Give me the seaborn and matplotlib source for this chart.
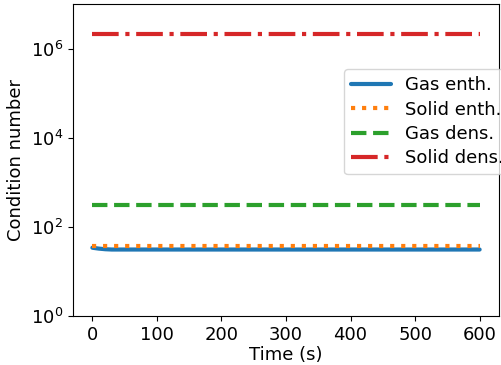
import matplotlib
matplotlib.use("Agg")
import matplotlib.pyplot as plt
import matplotlib.ticker as mticker
import seaborn as sns
import pandas as pd

time_s = [0, 10, 20, 30, 60, 120, 180, 240, 300, 360, 420, 480, 540, 600]
gas_enth = [34, 32.5, 31.5, 31, 31, 31, 31, 31, 31, 31, 31, 31, 31, 31]
solid_enth = [38, 38, 38, 38, 38, 38, 38, 38, 38, 38, 38, 38, 38, 38]
gas_dens = [307, 307, 307, 307, 307, 307, 307, 307, 307, 307, 307, 307, 307, 307]
solid_dens = [2.17e6] * 14
labels = ["Gas enth.", "Solid enth.", "Gas dens.", "Solid dens."]
y_ticks = [1, 1e2, 1e4, 1e6]

sns.set_style("ticks")
plt.rcParams['font.family'] = ['DejaVu Sans']
for k in ["text.color", "axes.labelcolor", "xtick.color", "ytick.color", "axes.edgecolor"]:
    plt.rcParams[k] = "black"

df = pd.DataFrame({"Time (s)": time_s * 4,
                   "value": gas_enth + solid_enth + gas_dens + solid_dens,
                   "series": sum([[l] * len(time_s) for l in labels], [])})

fig = plt.figure(figsize=(5.01, 3.65), dpi=100)
ax = fig.add_axes([73/501, 49/365, 426/501, 312/365])
colors = ["#1f77b4", "#ff7f0e", "#2ca02c", "#d62728"]
styles = ["-", ":", "--", "-."]
for lab, c, ls in zip(labels, colors, styles):
    sub = df[df.series == lab]
    sns.lineplot(data=sub, x="Time (s)", y="value", ax=ax, color=c, lw=3,
                 label=lab, linestyle=ls)
ax.set_yscale("log")
ax.set_ylim(1, 1e7)
ax.set_xlim(-30, 630)
ax.set_yticks(y_ticks)
ax.yaxis.set_minor_locator(mticker.NullLocator())
ax.set_xticks([0, 100, 200, 300, 400, 500, 600])
ax.tick_params(labelsize=13, colors="black")
ax.set_xlabel("Time (s)", fontsize=13, labelpad=2)
ax.set_ylabel("Condition number", fontsize=13)
ax.legend(loc="upper left", bbox_to_anchor=(344/501, (365-69)/365),
          bbox_transform=fig.transFigure, fontsize=13, frameon=True,
          handlelength=2.2, borderaxespad=0, labelspacing=0.35)
fig.savefig("out.png", dpi=100)
